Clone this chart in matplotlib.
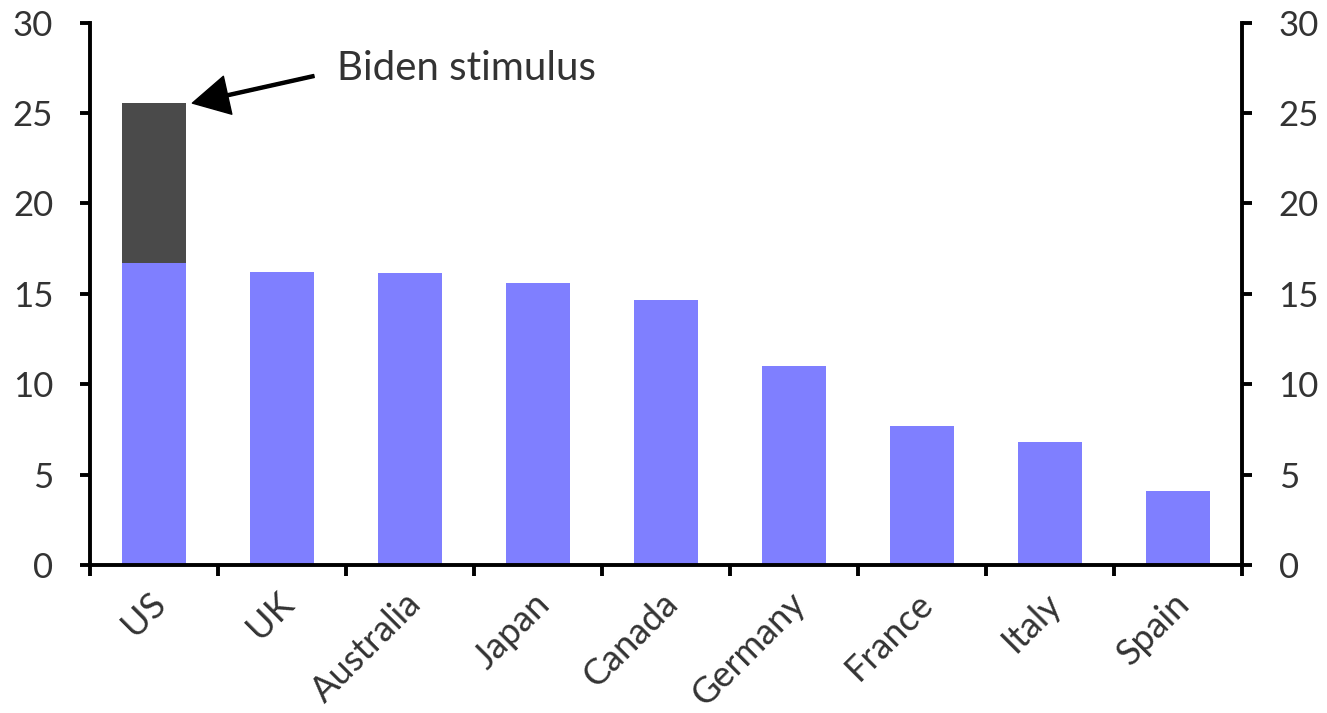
import numpy as np
import matplotlib
matplotlib.use("Agg")
import matplotlib.pyplot as plt
from matplotlib.transforms import ScaledTranslation

plt.rcParams['font.family'] = ['Lato', 'DejaVu Sans']

# данные
countries = ["US", "UK", "Australia", "Japan", "Canada", "Germany", "France", "Italy", "Spain"]
base_values = [16.7, 16.2, 16.15, 15.6, 14.65, 11.0, 7.7, 6.8, 4.1]
biden_extra = [8.85, 0, 0, 0, 0, 0, 0, 0, 0]
y_ticks = [0, 5, 10, 15, 20, 25, 30]

blue = "#7F7FFF"
dark = "#4A4A4A"
text_col = "#333333"

fig = plt.figure(figsize=(13.27, 7.13), dpi=100)
ax = fig.add_axes([0.0678, 0.2076, 0.868, 0.7606])

x = np.arange(len(countries))
ax.bar(x, base_values, width=0.5, color=blue, zorder=2)
ax.bar(x, biden_extra, width=0.5, bottom=base_values, color=dark, zorder=2)

ax.set_xlim(-0.5, len(countries) - 0.5)
ax.set_ylim(0, 30)

# оси
ax.spines["top"].set_visible(False)
for side in ["left", "right", "bottom"]:
    ax.spines[side].set_linewidth(2.8)
    ax.spines[side].set_color("black")

ax.set_yticks(y_ticks)
ax.tick_params(axis="y", which="major", direction="out", length=7.5, width=2.8,
               labelsize=25, labelcolor=text_col, left=True, right=True,
               labelleft=True, labelright=True, pad=19)

# подписи по оси X: метки между столбцами
ax.set_xticks(x)
ax.set_xticks(np.arange(-0.5, len(countries), 1.0), minor=True)
ax.set_xticklabels(countries, rotation=45, ha="right", va="center",
                   rotation_mode="anchor", fontsize=26, color=text_col)
ax.tick_params(axis="x", which="major", length=0, pad=24)
ax.tick_params(axis="x", which="minor", direction="out", length=8, width=2.8)
offset = ScaledTranslation(6 / 100, 0, fig.dpi_scale_trans)
for lbl in ax.get_xticklabels():
    lbl.set_transform(lbl.get_transform() + offset)

# стрелка и подпись
us_total = base_values[0] + biden_extra[0]
ax.annotate("", xy=(x[0] + 0.3, us_total), xytext=(x[0] + 1.25, us_total + 1.5),
            arrowprops=dict(facecolor="black", edgecolor="black", width=2.2,
                            headwidth=28, headlength=26, shrink=0))
ax.text(x[0] + 1.43, us_total + 1.9, "Biden stimulus", fontsize=29,
        color=text_col, ha="left", va="center")

fig.savefig("out.png", dpi=100)
